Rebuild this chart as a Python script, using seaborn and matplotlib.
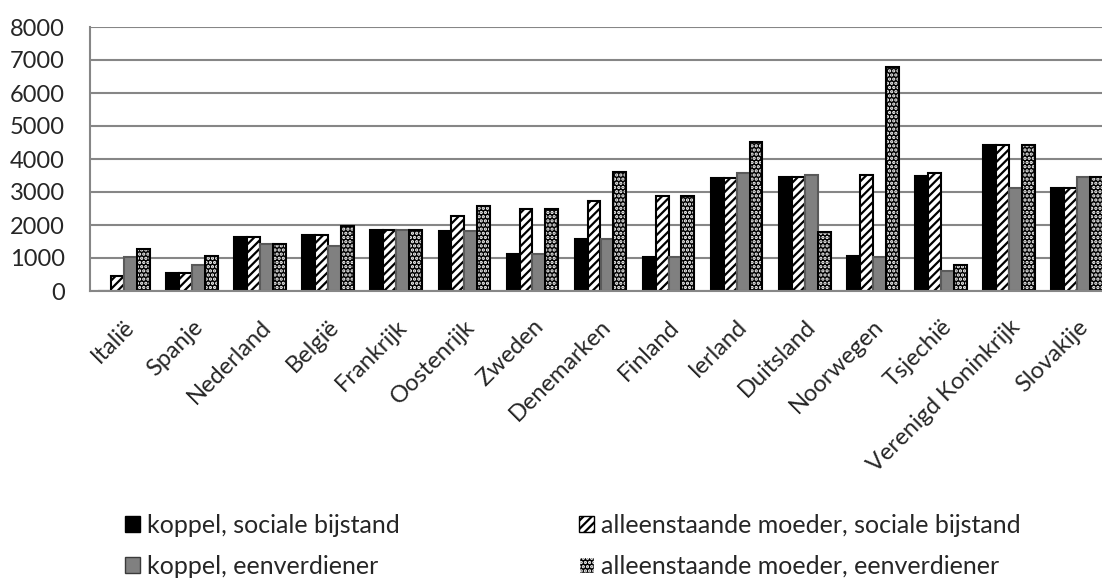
import numpy as np
import pandas as pd
import matplotlib
matplotlib.use("Agg")
import matplotlib.pyplot as plt
import seaborn as sns
from matplotlib.patches import Rectangle, Patch

# Monthly benefit amounts per country and household type
countries = ["Italië", "Spanje", "Nederland", "België", "Frankrijk", "Oostenrijk",
             "Zweden", "Denemarken", "Finland", "Ierland", "Duitsland", "Noorwegen",
             "Tsjechië", "Verenigd Koninkrijk", "Slovakije"]
series = ["koppel, sociale bijstand", "alleenstaande moeder, sociale bijstand",
          "koppel, eenverdiener", "alleenstaande moeder, eenverdiener"]
koppel_bijstand = [0, 550, 1650, 1700, 1840, 1830, 1130, 1590, 1040, 3430, 3460, 1050, 3500, 4420, 3110]
moeder_bijstand = [450, 550, 1650, 1700, 1840, 2270, 2480, 2720, 2890, 3410, 3450, 3520, 3590, 4420, 3110]
koppel_eenverdiener = [1040, 800, 1430, 1370, 1840, 1820, 1120, 1580, 1030, 3570, 3510, 1040, 620, 3130, 3440]
moeder_eenverdiener = [1280, 1070, 1430, 1960, 1840, 2590, 2480, 3610, 2890, 4510, 1790, 6800, 790, 4420, 3440]
y_ticks = list(range(0, 8001, 1000))

values = [koppel_bijstand, moeder_bijstand, koppel_eenverdiener, moeder_eenverdiener]
df = pd.DataFrame({
    "land": np.repeat([countries], len(series), axis=0).ravel(),
    "type": np.repeat(series, len(countries)),
    "bedrag": np.concatenate(values),
})

sns.set_theme(style="white")
plt.rcParams["font.family"] = ["Lato", "DejaVu Sans"]
plt.rcParams["hatch.linewidth"] = 1.6

GRID = "#868686"
FS = 17
FS_LEGEND = 18

fig = plt.figure(figsize=(11.02, 5.83), dpi=100)
ax = fig.add_axes([90 / 1102, 292 / 583, 1021 / 1102, 264 / 583])

ax.set_axisbelow(True)
ax.yaxis.grid(True, color=GRID, linewidth=1.5)

sns.barplot(data=df, x="land", y="bedrag", hue="type", order=countries,
            hue_order=series, palette=["black", "white", "#808080", "black"],
            width=0.76, gap=0, errorbar=None, legend=False, ax=ax,
            saturation=1)

DOTS = "...."
styles = [
    dict(edgecolor="black", hatch=None),
    dict(edgecolor="black", hatch="////"),
    dict(edgecolor="#5a5a5a", hatch=None),
    dict(edgecolor="white", hatch=DOTS),
]
for cont, st in zip(ax.containers, styles):
    for p in cont.patches:
        p.set_edgecolor(st["edgecolor"])
        p.set_linewidth(1.5)
        if st["hatch"]:
            p.set_hatch(st["hatch"])
        if st["edgecolor"] == "white":
            # dotted bars get white dots, so their black outline is drawn on top
            ax.add_patch(Rectangle(p.get_xy(), p.get_width(), p.get_height(),
                                   fill=False, edgecolor="black", linewidth=1.5,
                                   zorder=p.get_zorder() + 0.1))

ax.set_ylim(0, 8000)
ax.set_xlim(-0.5, len(countries) - 0.5)
ax.set_yticks(y_ticks)
ax.set_xticks(range(len(countries)))
ax.set_xticks(np.arange(-0.5, len(countries), 1.0), minor=True)
ax.set_xticklabels(countries, rotation=45, ha="right", rotation_mode="anchor",
                   fontsize=FS)
ax.tick_params(axis="x", which="major", length=0, pad=18)
ax.tick_params(axis="x", which="minor", length=7, width=1.5, color=GRID, direction="out")
ax.tick_params(axis="y", length=8, width=1.5, color=GRID, direction="out",
               labelsize=FS, pad=10)
ax.set_xlabel("")
ax.set_ylabel("")
for side in ("top", "right"):
    ax.spines[side].set_visible(False)
for side in ("left", "bottom"):
    ax.spines[side].set_color(GRID)
    ax.spines[side].set_linewidth(1.5)

handles = [
    Patch(facecolor="black", edgecolor="black", linewidth=1),
    Patch(facecolor="white", edgecolor="black", hatch="////", linewidth=1),
    Patch(facecolor="#808080", edgecolor="#3a3a3a", linewidth=1),
    Patch(facecolor="black", edgecolor="white", hatch=DOTS, linewidth=1),
]
order = [0, 2, 1, 3]
fig.legend([handles[i] for i in order], [series[i] for i in order],
           ncol=2, loc="center left", bbox_to_anchor=(125 / 1102, 1 - 546 / 583),
           frameon=False, fontsize=FS_LEGEND, handlelength=0.6, handleheight=0.6,
           handletextpad=0.28, columnspacing=7.16, labelspacing=0.72,
           borderaxespad=0, borderpad=0)

fig.savefig("out.png", dpi=100)
